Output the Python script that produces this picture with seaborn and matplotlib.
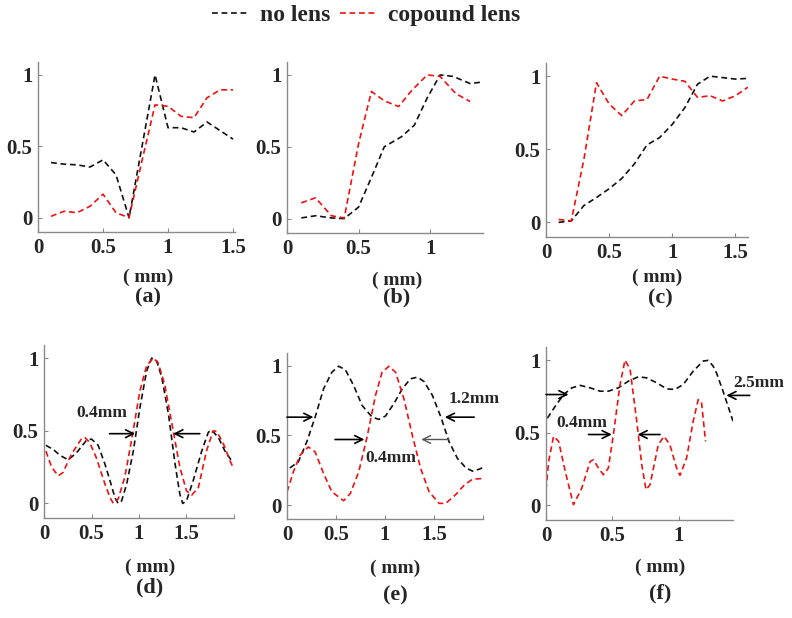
import matplotlib
matplotlib.use("Agg")
import numpy as np
import pandas as pd
import seaborn as sns
import matplotlib.pyplot as plt

# ---------------- data ----------------
series_labels = ["no lens", "copound lens"]
panel_labels = ["(a)", "(b)", "(c)", "(d)", "(e)", "(f)"]
xlabel_text = "( mm)"
ytick_vals = [0, 0.5, 1]
ytick_labels = ["0", "0.5", "1"]

# (a)
a_x = [0.1, 0.2, 0.3, 0.4, 0.5, 0.6, 0.7, 0.8, 0.9, 1.0, 1.1, 1.2, 1.3, 1.4, 1.5]
a_none = [0.386, 0.375, 0.37, 0.355, 0.405, 0.30, 0.0, 0.50, 1.0, 0.63, 0.63, 0.60, 0.67, 0.61, 0.55]
a_lens = [0.01, 0.045, 0.035, 0.08, 0.165, 0.035, 0.0, 0.40, 0.79, 0.78, 0.71, 0.70, 0.84, 0.895, 0.895]

# (b)
b_x_none = [0.1, 0.2, 0.31, 0.4, 0.5, 0.6, 0.68, 0.8, 0.89, 0.98, 1.07, 1.16, 1.28, 1.36]
b_none = [0.005, 0.02, 0.005, 0.0, 0.08, 0.31, 0.50, 0.57, 0.65, 0.84, 1.0, 0.99, 0.94, 0.95]
b_x_lens = [0.1, 0.2, 0.31, 0.4, 0.5, 0.59, 0.68, 0.78, 0.87, 0.98, 1.07, 1.18, 1.28]
b_lens = [0.11, 0.145, 0.02, 0.005, 0.52, 0.885, 0.82, 0.78, 0.89, 1.0, 0.99, 0.87, 0.815]

# (c)
c_x = [0.1, 0.2, 0.3, 0.4, 0.5, 0.6, 0.7, 0.8, 0.9, 1.0, 1.1, 1.2, 1.3, 1.4, 1.5, 1.6]
c_none = [0.0, 0.01, 0.115, 0.17, 0.23, 0.30, 0.40, 0.53, 0.58, 0.67, 0.785, 0.945, 1.0, 0.99, 0.98, 0.985]
c_lens = [0.02, 0.01, 0.43, 0.955, 0.81, 0.73, 0.83, 0.84, 1.0, 0.98, 0.965, 0.855, 0.866, 0.83, 0.866, 0.925]

# (d)
d_x_none = [0.02, 0.10, 0.17, 0.256, 0.344, 0.449, 0.50, 0.57, 0.642, 0.695, 0.747, 0.78, 0.817,
            0.87, 0.94, 1.01, 1.08, 1.133, 1.186, 1.24, 1.31, 1.38, 1.43, 1.46, 1.50, 1.57, 1.66,
            1.73, 1.765, 1.835, 1.905, 1.99]
d_none = [0.40, 0.37, 0.33, 0.30, 0.35, 0.436, 0.443, 0.40, 0.27, 0.156, 0.04, 0.0, 0.018,
          0.133, 0.36, 0.66, 0.91, 1.0, 0.98, 0.867, 0.615, 0.27, 0.064, 0.0, 0.018, 0.156, 0.36,
          0.49, 0.505, 0.454, 0.36, 0.28]
d_x_lens = [0.02, 0.08, 0.15, 0.20, 0.29, 0.40, 0.43, 0.48, 0.55, 0.642, 0.695, 0.73, 0.78, 0.85,
            0.92, 1.01, 1.08, 1.15, 1.20, 1.27, 1.36, 1.43, 1.50, 1.555, 1.625, 1.71, 1.78, 1.82,
            1.89, 1.96, 2.0]
d_lens = [0.36, 0.25, 0.19, 0.213, 0.34, 0.45, 0.454, 0.42, 0.316, 0.133, 0.04, 0.0, 0.03, 0.18,
          0.43, 0.775, 0.947, 1.0, 0.97, 0.82, 0.50, 0.25, 0.087, 0.057, 0.11, 0.36, 0.50, 0.495,
          0.408, 0.29, 0.236]

# (e)
e_x_none = [0.03, 0.116, 0.20, 0.287, 0.373, 0.458, 0.526, 0.595, 0.68, 0.766, 0.868, 0.937, 1.005,
            1.09, 1.176, 1.26, 1.33, 1.398, 1.484, 1.57, 1.655, 1.74, 1.826, 1.894, 1.962, 2.0]
e_none = [0.266, 0.31, 0.45, 0.63, 0.833, 0.952, 0.995, 0.971, 0.857, 0.714, 0.631, 0.614, 0.638,
          0.726, 0.833, 0.905, 0.917, 0.886, 0.786, 0.631, 0.452, 0.333, 0.266, 0.243, 0.257, 0.27]
e_x_lens = [0.0, 0.065, 0.133, 0.218, 0.287, 0.373, 0.458, 0.578, 0.646, 0.732, 0.817, 0.903, 0.97,
            1.04, 1.108, 1.193, 1.279, 1.364, 1.45, 1.552, 1.62, 1.723, 1.808, 1.894, 1.996]
e_lens = [0.095, 0.238, 0.357, 0.417, 0.381, 0.226, 0.095, 0.031, 0.083, 0.238, 0.488, 0.786, 0.952,
          0.995, 0.952, 0.762, 0.50, 0.262, 0.095, 0.012, 0.012, 0.076, 0.143, 0.186, 0.19]

# (f)
f_x_none = [0.01, 0.07, 0.133, 0.195, 0.258, 0.333, 0.408, 0.47, 0.546, 0.621, 0.696, 0.759, 0.834,
            0.91, 0.972, 1.035, 1.11, 1.185, 1.223, 1.26, 1.285, 1.335, 1.41]
f_none = [0.60, 0.683, 0.763, 0.809, 0.826, 0.809, 0.786, 0.786, 0.809, 0.855, 0.885, 0.878, 0.844,
          0.802, 0.798, 0.832, 0.924, 0.993, 0.998, 0.959, 0.913, 0.786, 0.58]
f_x_lens = [0.0, 0.02, 0.057, 0.095, 0.145, 0.207, 0.27, 0.333, 0.358, 0.396, 0.433, 0.47, 0.508,
            0.558, 0.596, 0.634, 0.684, 0.722, 0.754, 0.784, 0.847, 0.89, 0.934, 0.985, 1.01, 1.06,
            1.11, 1.148, 1.173, 1.203]
f_lens = [0.108, 0.303, 0.476, 0.441, 0.235, 0.005, 0.12, 0.303, 0.314, 0.257, 0.211, 0.257, 0.487,
          0.832, 1.0, 0.936, 0.58, 0.28, 0.108, 0.142, 0.418, 0.476, 0.418, 0.257, 0.207, 0.326,
          0.58, 0.729, 0.706, 0.441]

# ---------------- style ----------------
sns.set_theme(style="white")
plt.rcParams["font.family"] = ["Liberation Serif", "DejaVu Serif"]
plt.rcParams["font.weight"] = "bold"

W, H = 792, 618
fig = plt.figure(figsize=(W / 100, H / 100), dpi=100)
fig.patch.set_facecolor("white")

BLACK = "#111111"
RED = "#ee1111"
SPINE = "#8a8a8a"


def px_rect(l, t, r, b):
    return [l / W, 1 - b / H, (r - l) / W, (b - t) / H]


def fig_text(x, y, s, size):
    fig.text(x / W, 1 - y / H, s, ha="center", va="center", fontsize=size,
             fontweight="bold", family=["Liberation Serif", "DejaVu Serif"])


def panel(rect, xn, yn, xl, yl, xlim, xticks, xticklabels):
    ax = fig.add_axes(rect)
    sns.lineplot(x=xn, y=yn, ax=ax, color=BLACK, sort=False, estimator=None,
                 linewidth=1.2, linestyle="--")
    sns.lineplot(x=xl, y=yl, ax=ax, color=RED, sort=False, estimator=None,
                 linewidth=1.2, linestyle="--")
    for ln in ax.lines:
        ln.set_dashes((3.5, 2.2))
    ax.set_xlim(*xlim)
    ax.set_ylim(-0.1, 1.09)
    ax.set_xticks(xticks)
    ax.set_xticklabels(xticklabels)
    ax.set_yticks(ytick_vals)
    ax.set_yticklabels(ytick_labels)
    ax.set_xlabel("")
    ax.set_ylabel("")
    for s in ["top", "right"]:
        ax.spines[s].set_visible(False)
    for s in ["left", "bottom"]:
        ax.spines[s].set_color(SPINE)
        ax.spines[s].set_linewidth(1.0)
    ax.tick_params(direction="in", length=3, width=0.8, color=SPINE,
                   labelsize=15, pad=4, left=True, bottom=True)
    for lab in ax.get_xticklabels() + ax.get_yticklabels():
        lab.set_fontweight("bold")
    ax.set_facecolor("white")
    return ax


def arrow(ax, tail, tip, color="black", lw=1.2):
    ax.annotate("", xy=tip, xytext=tail, xycoords="data", textcoords="data",
                arrowprops=dict(arrowstyle="->", color=color, lw=lw,
                                shrinkA=0, shrinkB=0, mutation_scale=14),
                annotation_clip=False)


def note(ax, x, y, s, ha="center"):
    ax.text(x, y, s, ha=ha, va="center", fontsize=12.5, fontweight="bold",
            clip_on=False)


# top row
ax_a = panel(px_rect(38, 62, 235, 232), a_x, a_none, a_x, a_lens,
             (0, 1.515), [0, 0.5, 1, 1.5], ["0", "0.5", "1", "1.5"])
ax_b = panel(px_rect(287, 62, 483, 233), b_x_none, b_none, b_x_lens, b_lens,
             (0, 1.37), [0, 0.5, 1], ["0", "0.5", "1"])
ax_c = panel(px_rect(546, 63, 748, 237), c_x, c_none, c_x, c_lens,
             (0, 1.6), [0, 0.5, 1, 1.5], ["0", "0.5", "1", "1.5"])

# bottom row
ax_d = panel(px_rect(44, 345, 234, 518), d_x_none, d_none, d_x_lens, d_lens,
             (0, 2.0), [0, 0.5, 1, 1.5, 2], ["0", "0.5", "1", "1.5", ""])
ax_e = panel(px_rect(287, 353, 483, 519), e_x_none, e_none, e_x_lens, e_lens,
             (0, 2.0), [0, 0.5, 1, 1.5, 2], ["0", "0.5", "1", "1.5", ""])
ax_f = panel(px_rect(546, 347, 733, 520), f_x_none, f_none, f_x_lens, f_lens,
             (0, 1.41), [0, 0.5, 1], ["0", "0.5", "1"])

# annotations (d)
arrow(ax_d, (0.69, 0.48), (0.96, 0.48))
arrow(ax_d, (1.64, 0.48), (1.36, 0.48))
note(ax_d, 0.61, 0.62, "0.4mm")

# annotations (e)
arrow(ax_e, (0.0, 0.63), (0.27, 0.63))
arrow(ax_e, (1.91, 0.63), (1.61, 0.63))
note(ax_e, 1.65, 0.76, "1.2mm", ha="left")
arrow(ax_e, (0.49, 0.47), (0.79, 0.47))
arrow(ax_e, (1.65, 0.47), (1.37, 0.47), color="#555555", lw=1.0)
note(ax_e, 0.80, 0.336, "0.4mm", ha="left")

# annotations (f)
arrow(ax_f, (0.0, 0.763), (0.17, 0.763))
arrow(ax_f, (1.536, 0.757), (1.36, 0.757))
note(ax_f, 1.41, 0.844, "2.5mm", ha="left")
arrow(ax_f, (0.32, 0.488), (0.496, 0.488))
arrow(ax_f, (0.86, 0.488), (0.69, 0.488))
note(ax_f, 0.27, 0.568, "0.4mm")

# axis captions and panel letters
captions = [(148, 277, 148, 297), (397, 280, 397, 297), (657, 277, 660, 298),
            (150, 567, 150, 587), (395, 568, 395, 595), (660, 567, 660, 593)]
for (mx, my, lx, ly), lab in zip(captions, panel_labels):
    fig_text(mx, my, xlabel_text, 14)
    fig_text(lx, ly, lab, 16)

# legend
handles = ax_a.lines[:2]
leg = fig.legend(handles, series_labels, loc="center", ncol=2,
                 bbox_to_anchor=(366 / W, 1 - 15 / H), frameon=False,
                 prop={"family": "Liberation Serif", "weight": "bold", "size": 17},
                 handlelength=1.6, handletextpad=0.45, columnspacing=0.4,
                 borderpad=0.1)

fig.savefig("out.png", dpi=100, facecolor="white")
